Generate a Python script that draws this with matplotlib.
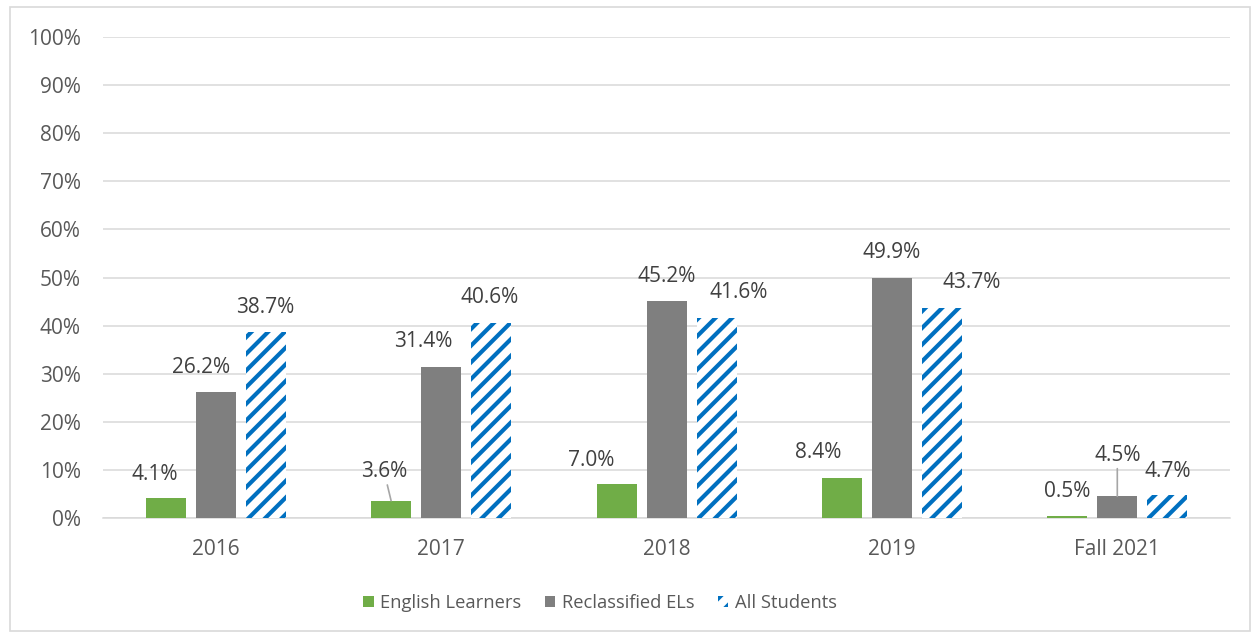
import matplotlib
matplotlib.use("Agg")
from matplotlib import pyplot as plt
from matplotlib.patches import Rectangle, Patch
import numpy as np

# data
categories = ["2016", "2017", "2018", "2019", "Fall 2021"]
english_learners = [4.1, 3.6, 7.0, 8.4, 0.5]
reclassified_els = [26.2, 31.4, 45.2, 49.9, 4.5]
all_students = [38.7, 40.6, 41.6, 43.7, 4.7]
series_names = ["English Learners", "Reclassified ELs", "All Students"]

# label nudges in pixels (dx, dy above bar top), as dragged in the original
green_nudge = [(-11, 24), (-7, 29), (-25, 24), (-24, 25), (0, 24)]
gray_nudge = [(-15, 24), (-18, 25), (0, 24), (0, 25), (0, 41)]
blue_nudge = [(-1, 24), (-1, 25), (22, 25), (30, 25), (0, 24)]
leader = {("green", 1), ("gray", 4)}

plt.rcParams["font.family"] = ["Open Sans", "DejaVu Sans"]
plt.rcParams["hatch.linewidth"] = 3.0
plt.rcParams["hatch.color"] = "#0070C0"

fig = plt.figure(figsize=(12.54, 6.34), dpi=100)
ax = fig.add_axes([103 / 1254, 1 - 518 / 634, 1127 / 1254, 481 / 634])

x = np.arange(len(categories))
w = 40 / 225.4
step = 50 / 225.4

b1 = ax.bar(x - step, english_learners, w, color="#70AD47", zorder=3)
b2 = ax.bar(x, reclassified_els, w, color="#7F7F7F", zorder=3)
b3 = ax.bar(x + step, all_students, w, color="white", edgecolor="#0070C0",
            hatch="//", linewidth=0, zorder=3)

ax.set_xlim(-0.5, len(categories) - 0.5)
ax.set_ylim(0, 100)
ax.set_yticks(range(0, 101, 10))
ax.set_yticklabels([f"{v}%" for v in range(0, 101, 10)])
ax.set_xticks(x)
ax.set_xticklabels(categories)
ax.tick_params(axis="both", length=0, labelsize=15, colors="#595959")
ax.tick_params(axis="y", pad=16)
ax.tick_params(axis="x", pad=15)
ax.grid(axis="y", color="#D9D9D9", linewidth=1.1, zorder=0)
ax.set_axisbelow(True)
for s in ["top", "right", "left"]:
    ax.spines[s].set_visible(False)
ax.spines["bottom"].set_color("#D9D9D9")
ax.spines["bottom"].set_linewidth(1.1)

groups = [("green", -step, english_learners, green_nudge),
          ("gray", 0, reclassified_els, gray_nudge),
          ("blue", step, all_students, blue_nudge)]
for name, off, vals, nudges in groups:
    for i, v in enumerate(vals):
        dx, dy = nudges[i]
        props = None
        if (name, i) in leader:
            props = dict(arrowstyle="-", color="#A6A6A6", lw=1.2,
                         shrinkA=0, shrinkB=0)
        ax.annotate(f"{v:.1f}%", xy=(x[i] + off, v), xytext=(dx, dy),
                    textcoords="offset pixels", ha="center", va="center",
                    fontsize=15, color="#404040", arrowprops=props, zorder=5)

handles = [Patch(facecolor="#70AD47", linewidth=0),
           Patch(facecolor="#7F7F7F", linewidth=0),
           Patch(facecolor="white", edgecolor="#0070C0", hatch="//", linewidth=0)]
leg = fig.legend(handles, series_names, loc="center",
                 bbox_to_anchor=(600 / 1254, 1 - 603 / 634), ncol=3,
                 frameon=False, fontsize=13.2, handlelength=0.55,
                 handleheight=0.55, handletextpad=0.35, columnspacing=1.3)
for t in leg.get_texts():
    t.set_color("#595959")

fig.patches.append(Rectangle((10 / 1254, 3 / 634), 1240 / 1254, 624 / 634,
                             transform=fig.transFigure, fill=False,
                             edgecolor="#D9D9D9", linewidth=1.2))

fig.savefig("out.png", dpi=100)
